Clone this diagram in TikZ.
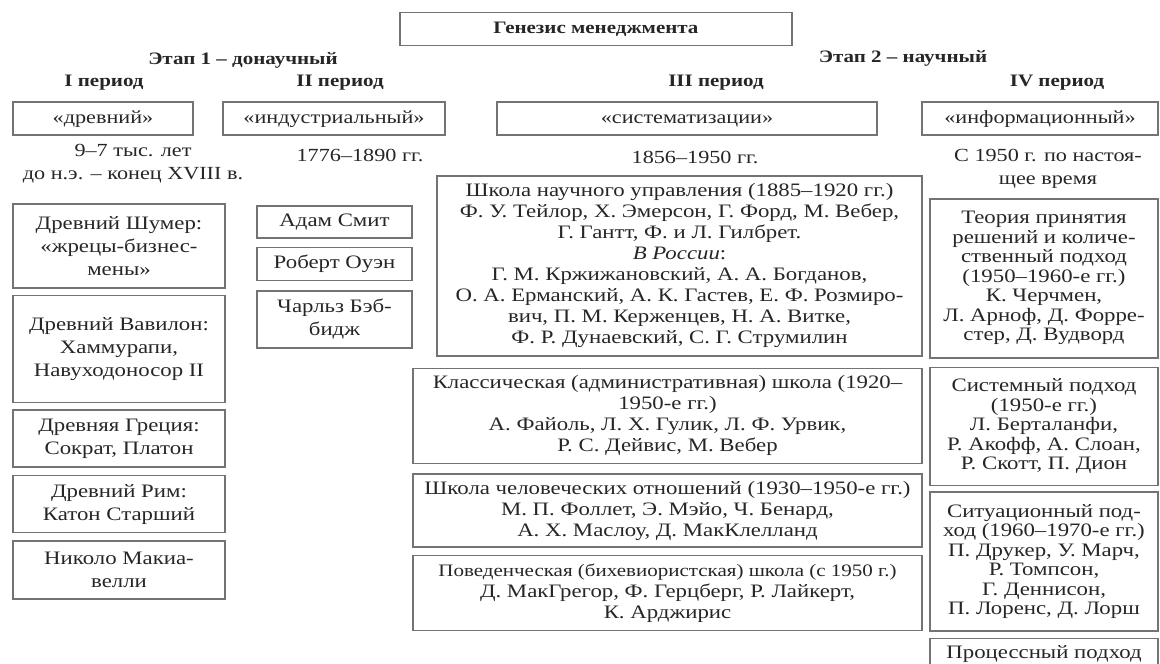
\documentclass[tikz,border=0pt]{standalone}
\usepackage{fontspec}
\setmainfont{Liberation Serif}[FakeStretch=1.2]
\usetikzlibrary{positioning}

\begin{document}
\begin{tikzpicture}[
  x=1pt, y=-1pt,
  node distance=7pt,
  every node/.style={text=black!85},
  hdr/.style={font=\bfseries\fontsize{17.5}{20}\selectfont},
  ttl/.style={hdr, draw=black!55, line width=1.6pt, minimum width=392pt, minimum height=33pt},
  per/.style={draw=black!55, line width=1.6pt, minimum height=33pt, inner sep=0pt,
              text height=13pt, text depth=4pt, font=\fontsize{18.5}{20}\selectfont},
  dat/.style={align=center, font=\fontsize{18.5}{23}\selectfont},
  cell/.style={draw=black!55, line width=1.6pt, align=center, inner xsep=3pt, inner ysep=2pt,
               font=\fontsize{19}{23}\selectfont},
  colI/.style={cell, minimum width=212pt},
  colII/.style={cell, minimum width=155pt},
  colIII/.style={cell, minimum width=509pt, font=\fontsize{19}{21}\selectfont},
  colIV/.style={cell, minimum width=228pt, font=\fontsize{19}{19.5}\selectfont}
]
\useasboundingbox (0,0) rectangle (1160,664);

% title and stages
\node[ttl] (genesis) at (596,29) {Генезис менеджмента};
\node[hdr] (stage1) at (243,60) {Этап 1 – донаучный};
\node[hdr] (stage2) at (903,58) {Этап 2 – научный};
\node[hdr] (p1) at (104,83) {I период};
\node[hdr] (p2) at (340,83) {II период};
\node[hdr] (p3) at (716,83) {III период};
\node[hdr] (p4) at (1057,83) {IV период};

% period names
\node[per, minimum width=180pt] (ancient) at (103,118.5) {«древний»};
\node[per, minimum width=222pt] (industrial) at (334,118.5) {«индустриальный»};
\node[per, minimum width=380pt] (system) at (687,118.5) {«систематизации»};
\node[per, minimum width=236pt] (info) at (1040,118.5) {«информационный»};

% dates
\node[dat] (d1) at (133,164) {9–7 тыс. лет\\до н.э. – конец XVIII в.};
\node[dat] (d2) at (360,155) {1776–1890 гг.};
\node[dat] (d3) at (695,157) {1856–1950 гг.};
\node[dat] (d4) at (1048,169) {С 1950 г. по настоя-\\щее время};

% column I
\node[colI, minimum height=84pt, anchor=north] (sumer) at (119,203)
  {Древний Шумер:\\«жрецы-бизнес-\\мены»};
\node[colI, minimum height=107pt, below=6pt of sumer] (babylon)
  {Древний Вавилон:\\Хаммурапи,\\Навуходоносор II};
\node[colI, minimum height=57pt, below=6pt of babylon] (greece)
  {Древняя Греция:\\Сократ, Платон};
\node[colI, minimum height=57pt, below=of greece] (rome)
  {Древний Рим:\\Катон Старший};
\node[colI, minimum height=58pt, below=of rome] (machiavelli)
  {Николо Макиа-\\велли};

% column II
\node[colII, minimum height=32pt, anchor=north] (smith) at (334.5,205) {Адам Смит};
\node[colII, minimum height=33pt, below=8pt of smith] (owen) {Роберт Оуэн};
\node[colII, minimum height=57pt, below=9pt of owen] (babbage) {Чарльз Бэб-\\бидж};

% column III
\node[colIII, minimum width=485pt, minimum height=180pt, anchor=north]
  (taylor) at (679.5,175)
  {Школа научного управления (1885–1920 гг.)\\
   Ф. У. Тейлор, Х. Эмерсон, Г. Форд, М. Вебер,\\
   Г. Гантт, Ф. и Л. Гилбрет.\\
   \textit{В России}:\\
   Г. М. Кржижановский, А. А. Богданов,\\
   О. А. Ерманский, А. К. Гастев, Е. Ф. Розмиро-\\
   вич, П. М. Керженцев, Н. А. Витке,\\
   Ф. Р. Дунаевский, С. Г. Струмилин};
\node[colIII, minimum height=95pt, below=11pt of taylor, xshift=-12pt] (classic)
  {Классическая (административная) школа (1920–\\
   1950-е гг.)\\
   А. Файоль, Л. Х. Гулик, Л. Ф. Урвик,\\
   Р. С. Дейвис, М. Вебер};
\node[colIII, minimum height=73pt, below=9pt of classic] (human)
  {Школа человеческих отношений (1930–1950-е гг.)\\
   М. П. Фоллет, Э. Мэйо, Ч. Бенард,\\
   А. Х. Маслоу, Д. МакКлелланд};
\node[colIII, minimum height=75pt, below=of human] (behav)
  {{\fontsize{17.5}{21}\selectfont Поведенческая (бихевиористская) школа (с 1950 г.)}\\
   Д. МакГрегор, Ф. Герцберг, Р. Лайкерт,\\
   К. Арджирис};

% column IV
\node[colIV, minimum height=159pt, anchor=north] (decision) at (1044,198)
  {Теория принятия\\решений и количе-\\ственный подход\\(1950–1960-е гг.)\\
   К. Черчмен,\\Л. Арноф, Д. Форре-\\стер, Д. Вудворд};
\node[colIV, minimum height=118pt, below=8pt of decision] (systems)
  {Системный подход\\(1950-е гг.)\\Л. Берталанфи,\\Р. Акофф, А. Слоан,\\Р. Скотт, П. Дион};
\node[colIV, minimum height=139pt, below=5pt of systems] (situation)
  {Ситуационный под-\\ход (1960–1970-е гг.)\\П. Друкер, У. Марч,\\Р. Томпсон,\\
   Г. Деннисон,\\П. Лоренс, Д. Лорш};
\node[colIV, minimum height=40pt, below=6pt of situation, text depth=14pt] (process)
  {Процессный подход};
\end{tikzpicture}
\end{document}
